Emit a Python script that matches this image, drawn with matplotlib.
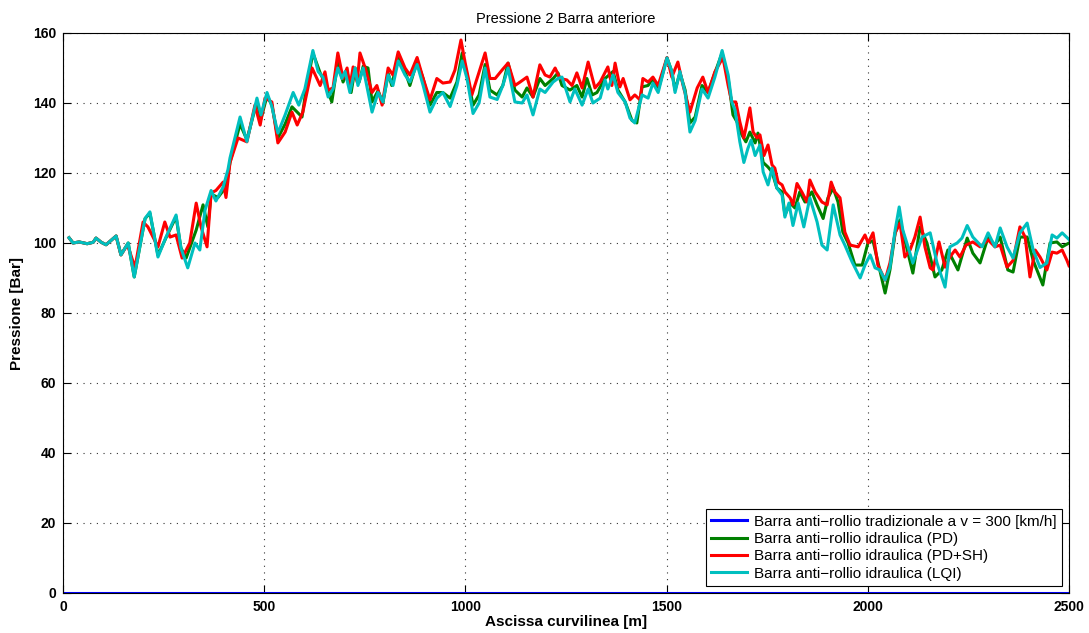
import matplotlib
matplotlib.use("Agg")
import matplotlib.pyplot as plt

plt.rcParams['font.family'] = ['Liberation Sans', 'DejaVu Sans']

# Shared flat start of the three hydraulic-bar traces [m], [Bar]
base_x = [15, 25, 40, 60, 75, 82, 95, 107, 120, 132, 144]
base_y = [101.5, 100, 100.3, 99.8, 100.2, 101.4, 100.2, 99.5, 100.8, 102, 96.6]

# Traditional anti-roll bar
trad_x = [0, 2500]
trad_y = [0, 0]

# Hydraulic anti-roll bar, PD control
pd_x = base_x + [162, 177, 204, 216, 236, 256, 281, 293, 306, 331, 348, 360, 368, 385, 405, 415, 440, 457, 482, 492, 507, 519, 534, 552, 569, 594, 603, 621, 639, 650, 668, 683, 696, 706, 716, 726, 736, 746, 758, 768, 783, 795, 808, 817, 833, 850, 862, 880, 895, 912, 929, 944, 962, 979, 992, 1004, 1019, 1034, 1049, 1061, 1079, 1093, 1106, 1123, 1141, 1153, 1168, 1185, 1198, 1218, 1230, 1240, 1260, 1277, 1290, 1302, 1315, 1327, 1347, 1367, 1379, 1397, 1414, 1426, 1439, 1454, 1466, 1479, 1501, 1513, 1521, 1533, 1546, 1558, 1571, 1588, 1603, 1620, 1638, 1653, 1665, 1675, 1687, 1697, 1707, 1720, 1727, 1740, 1752, 1762, 1774, 1787, 1794, 1807, 1819, 1831, 1844, 1861, 1874, 1889, 1901, 1914, 1926, 1938, 1951, 1968, 1986, 2001, 2013, 2025, 2043, 2055, 2068, 2080, 2092, 2112, 2130, 2147, 2167, 2184, 2199, 2224, 2247, 2261, 2279, 2299, 2316, 2329, 2348, 2361, 2378, 2396, 2411, 2435, 2453, 2470, 2483, 2500]
pd_y = base_y + [100, 90.3, 107, 108.5, 96.5, 101.5, 107.5, 98.6, 95.7, 103.7, 110.9, 104.6, 114, 113, 116, 123, 134, 129.5, 140.5, 135.5, 142, 139.5, 130, 134, 138.9, 136, 143, 154.3, 148.6, 146, 140.3, 151.7, 146, 149, 143, 150, 146, 150.5, 150, 140.3, 143.5, 140, 148.5, 145, 153.5, 149, 145, 152, 147, 139.4, 143, 143, 141.4, 146, 154.3, 148, 139.4, 142.3, 151, 143.7, 142.3, 145, 151.4, 143.7, 141.7, 144.3, 141.7, 147, 145, 147, 148.6, 145, 143.7, 145, 141.7, 147, 142.3, 143, 147, 149, 143.7, 140.3, 135, 134.3, 144.6, 145, 147, 143.7, 152.9, 149, 143.7, 148.6, 143.7, 134.3, 136, 145, 143, 148.6, 154.3, 147, 136.6, 134.6, 130.9, 128.9, 131.7, 128.6, 131.4, 123, 121.7, 120.3, 115.7, 114.6, 108, 111.4, 110, 114.6, 111.7, 114.6, 110.9, 107, 112.9, 115.7, 111.7, 103.1, 100, 93.7, 93.7, 100.3, 100.6, 94.6, 85.7, 92.3, 102.9, 106.6, 100.9, 91.4, 104.6, 100, 90.3, 92.3, 98, 92.3, 101.4, 97.1, 94.3, 101.7, 99.4, 101.7, 92.3, 91.7, 101.7, 101.7, 95, 88, 100, 100.3, 98.9, 100]

# Hydraulic anti-roll bar, PD + sky-hook control
pdsh_x = base_x + [160, 179, 199, 211, 236, 253, 266, 281, 296, 315, 331, 343, 358, 368, 380, 398, 405, 415, 435, 457, 477, 490, 502, 519, 534, 552, 569, 582, 596, 619, 639, 651, 659, 671, 683, 696, 706, 713, 721, 731, 738, 751, 768, 780, 793, 808, 820, 833, 850, 862, 880, 895, 912, 929, 944, 962, 974, 989, 999, 1016, 1029, 1049, 1061, 1074, 1091, 1106, 1123, 1136, 1153, 1168, 1185, 1198, 1210, 1223, 1235, 1252, 1265, 1277, 1290, 1305, 1322, 1335, 1354, 1364, 1372, 1384, 1392, 1409, 1421, 1434, 1441, 1454, 1466, 1479, 1501, 1513, 1528, 1541, 1558, 1576, 1590, 1603, 1620, 1640, 1653, 1662, 1672, 1682, 1692, 1707, 1715, 1725, 1732, 1742, 1752, 1762, 1769, 1777, 1787, 1794, 1807, 1814, 1824, 1836, 1849, 1856, 1869, 1886, 1899, 1909, 1918, 1931, 1943, 1956, 1976, 1993, 2001, 2013, 2025, 2043, 2055, 2068, 2080, 2092, 2105, 2117, 2130, 2142, 2155, 2162, 2177, 2192, 2204, 2217, 2229, 2244, 2261, 2279, 2299, 2316, 2329, 2346, 2361, 2378, 2391, 2403, 2416, 2428, 2445, 2458, 2470, 2483, 2495, 2500]
pdsh_y = base_y + [99.5, 93, 106, 104.6, 98.9, 106, 101.7, 102.3, 95.7, 100, 111.4, 104.6, 98.9, 114.3, 115, 117.4, 113, 123, 130, 128.9, 139.4, 133.7, 141.4, 140.3, 128.6, 131.7, 137.4, 133.7, 137.4, 150, 145, 148.9, 143.7, 144.3, 154.3, 147, 150, 144.6, 150.3, 146, 154.3, 150, 143, 145, 139.4, 150, 148, 154.6, 150, 148, 153, 147, 140.9, 147, 145.7, 146, 149.4, 158, 151.7, 142.3, 147, 154.3, 147, 147, 149.4, 151.4, 145, 146, 147.4, 141.7, 150.9, 148, 147.4, 150, 147, 146.6, 145, 148.6, 144.3, 151.7, 144.3, 146, 150.3, 145, 151.4, 144.6, 147, 140.9, 142.3, 140.9, 147, 146, 147.4, 145, 153, 147.4, 151.7, 145, 137.4, 144.3, 147.4, 143, 148.9, 153, 145, 140.3, 140.3, 134.6, 130, 138.6, 131.7, 130, 130.9, 125, 128, 122.3, 121.4, 117.4, 116.6, 114.6, 112.9, 110.9, 117, 114.6, 111.7, 118, 114.6, 111.7, 110.9, 117.4, 114.6, 112.9, 103.1, 99.4, 98.9, 102.3, 100, 102.9, 93.7, 89.4, 94.3, 102.9, 105.7, 96, 98, 101.7, 107.4, 98.9, 92.9, 92.3, 100.3, 93.1, 96, 98, 96, 99.4, 100.3, 98.9, 100.9, 98.9, 99.4, 93.1, 95, 104.6, 101.7, 90.3, 98, 96, 92.3, 97.4, 97.1, 98, 95, 93.5]

# Hydraulic anti-roll bar, LQI control
lqi_x = base_x + [162, 177, 204, 216, 236, 256, 281, 293, 310, 328, 340, 353, 368, 380, 398, 410, 415, 440, 457, 482, 492, 507, 519, 534, 552, 572, 586, 601, 621, 634, 646, 659, 671, 683, 693, 701, 713, 726, 733, 746, 768, 783, 795, 808, 820, 833, 850, 862, 880, 895, 912, 929, 944, 962, 979, 992, 1004, 1019, 1034, 1049, 1061, 1079, 1093, 1106, 1123, 1141, 1153, 1168, 1185, 1198, 1218, 1230, 1240, 1260, 1272, 1290, 1305, 1317, 1335, 1347, 1354, 1367, 1379, 1397, 1409, 1421, 1439, 1454, 1466, 1479, 1501, 1513, 1521, 1533, 1546, 1558, 1571, 1588, 1603, 1620, 1638, 1653, 1662, 1670, 1682, 1692, 1702, 1710, 1720, 1732, 1740, 1752, 1762, 1774, 1787, 1794, 1804, 1814, 1827, 1841, 1856, 1874, 1886, 1899, 1914, 1931, 1943, 1961, 1981, 1993, 2006, 2018, 2030, 2043, 2055, 2068, 2078, 2087, 2100, 2112, 2135, 2155, 2172, 2192, 2204, 2222, 2234, 2247, 2261, 2284, 2299, 2316, 2329, 2346, 2361, 2378, 2396, 2411, 2428, 2445, 2458, 2470, 2483, 2500]
lqi_y = base_y + [100, 90.3, 107, 108.9, 96, 101.7, 108, 98.6, 92.9, 100, 98, 109.4, 115, 112, 116, 121, 124.3, 136, 129, 141.4, 136.6, 143, 139, 131.4, 136.6, 143, 139.4, 144, 155, 149, 147.4, 141.7, 144, 150, 147, 149, 143, 150, 145, 150, 137.4, 143, 140.3, 148, 145, 152, 148, 146, 151, 145, 137.4, 141.4, 143, 139, 145, 152, 147, 137, 140, 150, 141.7, 141, 145, 150, 140.3, 140, 142.3, 136.6, 144, 143, 146, 147, 147.4, 140.3, 144, 139.4, 144, 140, 141.4, 146.6, 144, 148, 143, 140.3, 135.7, 134.3, 142.3, 141.4, 145.7, 143, 152.9, 149, 143, 149, 143, 131.7, 135, 144, 141.4, 147.4, 155, 148, 140.3, 138, 128.9, 123, 127, 129.4, 125, 128, 120.3, 116.6, 121.4, 115.7, 113.7, 107.4, 111.4, 105, 111.4, 104.6, 112.9, 106, 99.4, 98, 110.9, 102.3, 99.4, 94.6, 90, 93.7, 96.6, 92.9, 92.3, 89.4, 93, 103.7, 110.3, 103.7, 98.9, 94.3, 101.7, 102.9, 94.3, 87.4, 98.9, 100, 101.4, 105, 101.7, 98.9, 102.9, 98.9, 104.3, 98.9, 95.7, 102.9, 105.7, 98, 93, 94.3, 102.3, 101.4, 102.9, 101]

labels = [
    "Barra anti\u2212rollio tradizionale a v = 300 [km/h]",
    "Barra anti\u2212rollio idraulica (PD)",
    "Barra anti\u2212rollio idraulica (PD+SH)",
    "Barra anti\u2212rollio idraulica (LQI)",
]
colors = ["#0000ff", "#008000", "#ff0000", "#00bfbf"]

xticks = [0, 500, 1000, 1500, 2000, 2500]
yticks = [0, 20, 40, 60, 80, 100, 120, 140, 160]

fig = plt.figure(figsize=(10.89, 6.33), dpi=100)
ax = fig.add_axes([63 / 1089, 40 / 633, 1006 / 1089, 560 / 633])

series = [(trad_x, trad_y), (pd_x, pd_y), (pdsh_x, pdsh_y), (lqi_x, lqi_y)]
for (xs, ys), c, lab in zip(series, colors, labels):
    ax.plot(xs, ys, color=c, lw=2.2, label=lab, solid_joinstyle='round')

ax.set_xlim(0, 2500)
ax.set_ylim(0, 160)
ax.set_xticks(xticks)
ax.set_yticks(yticks)
ax.tick_params(direction='in', length=6, width=0.8, top=True, right=True,
               labelsize=10, pad=5)
for lbl in ax.get_xticklabels() + ax.get_yticklabels():
    lbl.set_fontweight('bold')
ax.grid(True, color='0.2', linestyle=(0, (1, 5)), linewidth=0.8)
for s in ax.spines.values():
    s.set_linewidth(0.8)

ax.set_title("Pressione 2 Barra anteriore", fontsize=10.5, pad=7)
ax.set_xlabel("Ascissa curvilinea [m]", fontsize=11, fontweight='bold',
              labelpad=1)
ax.set_ylabel("Pressione [Bar]", fontsize=11, fontweight='bold', labelpad=6)

leg = ax.legend(loc='lower right', bbox_to_anchor=(0.993, 0.0125),
                borderaxespad=0, fontsize=11, frameon=True, fancybox=False,
                edgecolor='black', framealpha=1, handlelength=2.35,
                handletextpad=0.45, labelspacing=0.22, borderpad=0.35)
leg.get_frame().set_linewidth(0.8)

fig.savefig("out.png", dpi=100)
